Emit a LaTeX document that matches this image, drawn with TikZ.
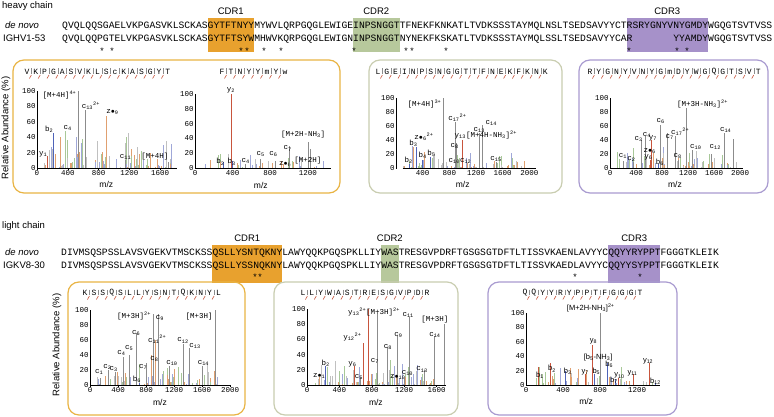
\documentclass[tikz,border=0pt]{standalone}
\usepackage{fontspec}
\setmainfont{Liberation Sans}
\setsansfont{Liberation Sans}
\setmonofont{Liberation Mono}
\definecolor{cdrO}{HTML}{E8A12E}
\definecolor{cdrG}{HTML}{B7C89C}
\definecolor{cdrP}{HTML}{A691C9}
\definecolor{frO}{HTML}{E9B444}
\definecolor{frG}{HTML}{C9CDB0}
\definecolor{frP}{HTML}{A99BD0}
\definecolor{cgr}{HTML}{A8C898}
\definecolor{cor}{HTML}{E0A070}
\definecolor{cbl}{HTML}{A0A8D8}
\definecolor{cgy}{HTML}{C0C0C0}
\definecolor{cred}{HTML}{C8553D}
\definecolor{cblue}{HTML}{4F63B8}
\definecolor{cgray}{HTML}{8C8C8C}
\tikzset{
 seqtxt/.style={font=\fontsize{9.7}{10}\ttfamily,inner sep=0,anchor=base west},
 lbl/.style={font=\fontsize{9.5}{10}\sffamily,inner sep=0},
 star/.style={font=\fontsize{9}{9}\ttfamily,inner sep=0},
 frame/.style={rounded corners=11pt,line width=1.2pt},
 tk/.style={font=\fontsize{7.5}{8}\ttfamily,inner sep=1pt},
 pkl/.style={font=\fontsize{7.5}{8}\ttfamily,inner sep=0.5pt},
 mz/.style={font=\fontsize{8.5}{9}\sffamily,inner sep=0},
 pep/.style={font=\fontsize{8}{8}\ttfamily,inner sep=0},
}
\newcommand\cw{5.82}
\newcommand\noisebars[3]{%
 \foreach \k in {1,...,#2}{%
  \pgfmathsetmacro\mm{100+rnd*(#1-100)}%
  \pgfmathsetmacro\ii{rnd*rnd*#3}%
  \pgfmathtruncatemacro\cc{mod(\k,4)}%
  \ifcase\cc \def\col{cgr}\or\def\col{cor}\or\def\col{cbl}\else\def\col{cgy}\fi
  \draw[\col,line width=0.45pt] (\mm,0) -- (\mm,\ii);}}
\newcommand\axes[3]{%
 \draw[line width=0.5pt] (#1,0) -- (#2,0);
 \draw[line width=0.5pt] (0,0) -- (0,100);
 \foreach \v in {0,20,...,100}{\draw (0,\v) -- ++(-2pt,0) node[tk,left]{\v};}
 \foreach \t in {#3}{\draw (\t,0) -- ++(0,-2pt) node[tk,below]{\t};}}
\newcommand\pk[3]{\draw[#3,line width=0.6pt] (#1,0) -- (#1,#2);}
\newcommand\pepseq[4]{%
 \foreach \l [count=\n from 0] in {#4}{%
  \node[pep] at ({#1+\n*#3},{-#2}) {\l};
  \ifnum\n>0
   \draw[cgray,line width=0.35pt] ({#1+(\n-0.5)*#3},{-#2+3.5}) -- ({#1+(\n-0.5)*#3},{-#2-2});
   \draw[cred,line width=0.6pt] ({#1+(\n-0.5)*#3},{-#2-3}) -- ({#1+(\n-0.5)*#3-2},{-#2-6.5});
  \fi}}
\begin{document}
\begin{tikzpicture}[x=1pt,y=1pt]
\useasboundingbox (0,0) rectangle (774,-417);
\fill[white] (0,0) rectangle (774,-417);
\pgfmathsetseed{7}
%================ HEAVY =================
\node[lbl,anchor=west] (hc) at (2,-6) {heavy chain};
\fill[cdrO] ({62+25*\cw},-18) rectangle ({62+33*\cw},-52);
\fill[cdrG] ({62+50*\cw},-18) rectangle ({62+58*\cw},-52);
\fill[cdrP] ({62+97*\cw},-18) rectangle ({62+111*\cw},-52);
\node[lbl] (h1) at ({62+29*\cw},-11) {CDR1};
\node[lbl] (h2) at ({62+54*\cw},-11) {CDR2};
\node[lbl] (h3) at ({62+104*\cw},-11) {CDR3};
\node[lbl,anchor=base west] (hdn) at (5,-29) {\textit{de novo}};
\node[lbl,anchor=base west] (hg) at (3,-42) {IGHV1-53};
\node[seqtxt] (hs1) at (62,-29) {QVQLQQSGAELVKPGASVKLSCKASGYTFTNYYMYWVLQRPGQGLEWIGEINPSNGGTTFNEKFKNKATLTVDKSSSTAYMQLNSLTSEDSAVYYCTRSRYGNYVNYGMDYWGQGTSVTVSS};
\node[seqtxt] (hs2) at (62,-42) {QVQLQQPGTELVKPGASVKLSCKASGYTFTSYWMHWVKQRPGQGLEWIGNINPSNGGTNYNEKFKSKATLTVDKSSSTAYMQLSSLTSEDSAVYYCAR};
\node[seqtxt] (hs3) at ({62+105*\cw},-42) {YYAMDYWGQGTSVTVSS};
\foreach \x in {102,112,241,247,264,281,354,406,412,446,629,677,687}
 \node[star] at (\x,-51) {*};
\draw[frO,frame] (13,-60) rectangle (340,-193);
\draw[frG,frame] (369,-60) rectangle (562,-193);
\draw[frP,frame] (579,-60) rectangle (768,-193);
\node[font=\fontsize{9.5}{10}\sffamily,rotate=90] (ra1) at (6,-128) {Relative Abundance (\%)};
\pepseq{27}{72}{8.8}{V,K,P,G,A,S,V,K,L,S,c,K,A,S,G,Y,T}
\pepseq{222}{72}{9}{F,T,N,Y,Y,m,Y,w}
\pepseq{378}{72}{8.8}{L,G,E,I,N,P,S,N,G,G,T,T,F,N,E,K,F,K,N,K}
\pepseq{590}{72}{8.85}{R,Y,G,N,Y,V,N,Y,G,m,D,Y,W,G,Q,G,T,S,V,T}
\begin{scope}[shift={(37,-168)},xscale=0.077,yscale=0.77]
 \noisebars{1750}{90}{55}
 \axes{0}{1820}{0,400,800,1200,1600}
 \pk{532}{100}{cgray}\node[pkl,anchor=south east] at (520,88) {[M+4H]\textsuperscript{4+}};
 \pk{623}{75}{cgray}\node[pkl,anchor=south] at (700,75) {c\textsubscript{13}\textsuperscript{2+}};
 \pk{896}{68}{cor}\node[pkl,anchor=south] at (980,68) {z$\bullet$\textsubscript{9}};
 \pk{208}{45}{cblue}\node[pkl,anchor=south] at (160,45) {b\textsubscript{2}};
 \pk{364}{48}{cgr}\node[pkl,anchor=south] at (400,48) {c\textsubscript{4}};
 \pk{130}{15}{cred}\node[pkl,anchor=south] at (80,13) {y\textsubscript{1}};
 \pk{1150}{10}{cgray}\node[pkl,anchor=south] at (1150,10) {c\textsubscript{11}};
 \pk{1700}{8}{cgray}\node[pkl,anchor=south] at (1530,10) {[M+4H]};
 \node[mz] at (900,-22) {m/z};
\end{scope}
\begin{scope}[shift={(195,-168)},xscale=0.094,yscale=0.74]
 \noisebars{1400}{40}{25}
 \axes{0}{1450}{0,400,800,1200}
 \pk{383}{100}{cred}\node[pkl,anchor=south] at (383,100) {y\textsubscript{2}};
 \pk{300}{8}{cblue}\node[pkl,anchor=south] at (270,3) {b\textsubscript{2}};
 \pk{400}{10}{cblue}\node[pkl,anchor=south] at (390,3) {b\textsubscript{3}};
 \pk{540}{5}{cgray}\node[pkl,anchor=south] at (540,5) {c\textsubscript{4}};
 \pk{700}{12}{cgray}\node[pkl,anchor=south] at (700,14) {c\textsubscript{5}};
 \pk{850}{10}{cgray}\node[pkl,anchor=south] at (835,14) {c\textsubscript{6}};
 \pk{940}{5}{cor}\node[pkl,anchor=south] at (960,1) {z$\bullet$\textsubscript{6}};
 \pk{1000}{30}{cgray}\node[pkl,anchor=south] at (985,22) {c\textsubscript{7}};
 \pk{1210}{35}{cgray}\node[pkl,anchor=south] at (1150,40) {[M+2H-NH\textsubscript{3}]};
 \pk{1225}{25}{cgray}\node[pkl,anchor=south] at (1200,5) {[M+2H]};
 \node[mz] at (700,-23) {m/z};
\end{scope}
\begin{scope}[shift={(396,-168)},xscale=0.0667,yscale=0.70]
 \noisebars{2000}{80}{35}
 \axes{100}{2100}{400,800,1200,1600,2000}
 \pk{705}{100}{cgray}\node[pkl,anchor=south east] at (690,85) {[M+4H]\textsuperscript{3+}};
 \pk{895}{65}{cgray}\node[pkl,anchor=south] at (920,65) {c\textsubscript{17}\textsuperscript{2+}};
 \pk{1300}{62}{cgray}\node[pkl,anchor=south] at (1430,60) {c\textsubscript{14}};
 \pk{1250}{50}{cgray}\node[pkl,anchor=south] at (1250,50) {c\textsubscript{13}};
 \pk{1000}{40}{cred}\node[pkl,anchor=south west] at (870,40) {y\textsubscript{13}[M+4H-NH\textsubscript{3}]\textsuperscript{2+}};
 \pk{900}{35}{cgray}\node[pkl,anchor=south] at (880,27) {c\textsubscript{8}};
 \pk{300}{30}{cblue}\node[pkl,anchor=south] at (260,30) {b\textsubscript{3}};
 \node[pkl,anchor=south] at (420,38) {z$\bullet$\textsubscript{6}\textsuperscript{2+}};
 \pk{400}{12}{cblue}\node[pkl,anchor=south] at (400,12) {b\textsubscript{4}};
 \pk{520}{15}{cblue}\node[pkl,anchor=south] at (530,15) {b\textsubscript{5}};
 \pk{200}{5}{cblue}\node[pkl,anchor=south] at (190,5) {b\textsubscript{2}};
 \node[pkl,anchor=south] at (960,5) {c\textsubscript{10}c\textsubscript{12}};
 \pk{1500}{8}{cgray}\node[pkl,anchor=south] at (1500,8) {c\textsubscript{15}};
 \node[mz] at (1000,-24) {m/z};
\end{scope}
\begin{scope}[shift={(610,-168)},xscale=0.065,yscale=0.70]
 \noisebars{1950}{70}{35}
 \axes{0}{2050}{0,400,800,1200,1600,2000}
 \pk{1180}{85}{cgray}\node[pkl,anchor=south west] at (1020,85) {[M+3H-NH\textsubscript{3}]\textsuperscript{2+}};
 \pk{780}{62}{cgray}\node[pkl,anchor=south] at (780,62) {c\textsubscript{6}};
 \pk{880}{50}{cgray}\node[pkl,anchor=south] at (920,40) {c\textsubscript{7}};
 \pk{1000}{45}{cgray}\node[pkl,anchor=south] at (1080,45) {c\textsubscript{17}\textsuperscript{2+}};
 \pk{1760}{50}{cgray}\node[pkl,anchor=south] at (1780,50) {c\textsubscript{14}};
 \pk{1900}{42}{cgray}
 \pk{480}{40}{cgray}\node[pkl,anchor=south] at (440,37) {c\textsubscript{3}};
 \pk{540}{45}{cgray}\node[pkl,anchor=south] at (570,43) {c\textsubscript{4}};
 \pk{640}{40}{cred}\node[pkl,anchor=south] at (660,37) {y\textsubscript{7}};
 \pk{660}{22}{cor}\node[pkl,anchor=south] at (610,20) {z$\bullet$\textsubscript{6}};
 \pk{620}{12}{cred}\node[pkl,anchor=south] at (590,10) {y\textsubscript{6}};
 \pk{750}{5}{cblue}\node[pkl,anchor=south] at (770,2) {b\textsubscript{6}};
 \pk{200}{10}{cgray}\node[pkl,anchor=south] at (200,12) {c\textsubscript{1}};
 \pk{360}{8}{cgray}\node[pkl,anchor=south] at (330,8) {c\textsubscript{2}};
 \pk{1050}{12}{cgray}\node[pkl,anchor=south] at (1040,12) {c\textsubscript{8}};
 \pk{1260}{25}{cgray}\node[pkl,anchor=south] at (1320,25) {c\textsubscript{10}};
 \pk{1560}{20}{cgray}\node[pkl,anchor=south] at (1620,25) {c\textsubscript{12}};
 \node[mz] at (1000,-24) {m/z};
\end{scope}
%================ LIGHT =================
\node[lbl,anchor=west] (lc) at (2,-226) {light chain};
\fill[cdrO] ({61+26*\cw},-245) rectangle ({61+38*\cw},-283);
\fill[cdrG] ({61+55*\cw},-245) rectangle ({61+58*\cw},-283);
\fill[cdrP] ({61+94*\cw},-245) rectangle ({61+103*\cw},-283);
\node[lbl] (l1) at ({61+32*\cw},-238) {CDR1};
\node[lbl] (l2) at ({61+56.5*\cw},-238) {CDR2};
\node[lbl] (l3) at ({61+98.5*\cw},-238) {CDR3};
\node[lbl,anchor=base west] (ldn) at (5,-255) {\textit{de novo}};
\node[lbl,anchor=base west] (lg) at (3,-268) {IGKV8-30};
\node[seqtxt] (ls1) at (61,-255) {DIVMSQSPSSLAVSVGEKVTMSCKSSQSLLYSNTQKNYLAWYQQKPGQSPKLLIYWASTRESGVPDRFTGSGSGTDFTLTISSVKAENLAVYYCQQYYRYPPTFGGGTKLEIK};
\node[seqtxt] (ls2) at (61,-268) {DIVMSQSPSSLAVSVGEKVTMSCKSSQSLLYSSNQKNYLAWYQQKPGQSPKLLIYWASTRESGVPDRFTGSGSGTDFTLTISSVKAEDLAVYYCQQYYSYPPTFGGGTKLEIK};
\foreach \x in {255,260,575,640}
 \node[star] at (\x,-277) {*};
\draw[frO,frame] (68,-282) rectangle (245,-415);
\draw[frG,frame] (274,-282) rectangle (458,-415);
\draw[frP,frame] (488,-282) rectangle (677,-415);
\node[font=\fontsize{9.5}{10}\sffamily,rotate=90] (ra2) at (57,-345) {Relative Abundance (\%)};
\pepseq{85}{293}{8.9}{K,S,S,Q,S,L,L,Y,S,N,T,Q,K,N,Y,L}
\pepseq{303}{293}{8.86}{L,L,Y,W,A,S,T,R,E,S,G,V,P,D,R}
\pepseq{525}{293}{8.85}{Q,Q,Y,Y,R,Y,P,P,T,F,G,G,G,T}
\begin{scope}[shift={(90,-385)},xscale=0.07,yscale=0.75]
 \noisebars{1900}{70}{40}
 \axes{0}{2000}{0,400,800,1200,1600,2000}
 \pk{900}{95}{cgray}\node[pkl,anchor=south east] at (880,85) {[M+3H]\textsuperscript{2+}};
 \pk{980}{95}{cgray}\node[pkl,anchor=south] at (1000,85) {c\textsubscript{9}};
 \pk{1790}{100}{cgray}\node[pkl,anchor=south] at (1560,85) {[M+3H]};
 \pk{660}{70}{cgray}\node[pkl,anchor=south] at (660,65) {c\textsubscript{6}};
 \pk{560}{40}{cgray}\node[pkl,anchor=south] at (560,45) {c\textsubscript{5}};
 \pk{480}{38}{cgray}\node[pkl,anchor=south] at (450,38) {c\textsubscript{4}};
 \pk{260}{20}{cgray}\node[pkl,anchor=south] at (250,20) {c\textsubscript{2}};
 \pk{360}{18}{cgray}\node[pkl,anchor=south] at (340,17) {c\textsubscript{3}};
 \pk{150}{10}{cgray}\node[pkl,anchor=south] at (130,13) {c\textsubscript{1}};
 \pk{930}{60}{cor}\node[pkl,anchor=south] at (960,55) {c\textsubscript{11}\textsuperscript{2+}};
 \pk{1330}{55}{cgray}\node[pkl,anchor=south] at (1330,55) {c\textsubscript{12}};
 \pk{1420}{50}{cgray}\node[pkl,anchor=south] at (1500,48) {c\textsubscript{13}};
 \pk{800}{30}{cgray}\node[pkl,anchor=south] at (760,20) {c\textsubscript{7}};
 \pk{880}{40}{cor}\node[pkl,anchor=south] at (920,30) {c\textsubscript{8}};
 \pk{1130}{25}{cgray}\node[pkl,anchor=south] at (1170,25) {c\textsubscript{10}};
 \pk{1600}{25}{cgray}\node[pkl,anchor=south] at (1620,25) {c\textsubscript{14}};
 \pk{700}{3}{cblue}\node[pkl,anchor=south] at (670,2) {b\textsubscript{6}};
 \node[mz] at (1000,-23) {m/z};
\end{scope}
\begin{scope}[shift={(307,-385)},xscale=0.081,yscale=0.76]
 \noisebars{1650}{80}{35}
 \axes{0}{1720}{0,400,800,1200,1600}
 \pk{760}{100}{cred}\node[pkl,anchor=south] at (620,90) {y\textsubscript{13}\textsuperscript{2+}};
 \pk{870}{95}{cgray}\node[pkl,anchor=south] at (940,90) {[M+3H]\textsuperscript{2+}};
 \pk{1260}{90}{cgray}\node[pkl,anchor=south] at (1250,88) {c\textsubscript{11}};
 \pk{1690}{80}{cgray}\node[pkl,anchor=south] at (1580,80) {[M+3H]};
 \pk{1570}{65}{cgray}\node[pkl,anchor=south] at (1580,62) {c\textsubscript{14}};
 \pk{1120}{65}{cgray}\node[pkl,anchor=south] at (1130,62) {c\textsubscript{9}};
 \pk{990}{50}{cgray}\node[pkl,anchor=south] at (1000,46) {c\textsubscript{8}};
 \pk{690}{55}{cred}\node[pkl,anchor=south] at (560,57) {y\textsubscript{12}\textsuperscript{2+}};
 \pk{870}{30}{cgray}\node[pkl,anchor=south] at (840,27) {c\textsubscript{7}};
 \pk{590}{25}{cred}\node[pkl,anchor=south] at (560,23) {y\textsubscript{6}};
 \pk{660}{10}{cgray}\node[pkl,anchor=south] at (640,6) {c\textsubscript{5}};
 \pk{230}{25}{cblue}\node[pkl,anchor=south] at (230,23) {b\textsubscript{2}};
 \pk{150}{10}{cor}\node[pkl,anchor=south] at (150,8) {z$\bullet$\textsubscript{1}};
 \node[pkl,anchor=south] at (1120,6) {z$\bullet$\textsubscript{10}};
 \pk{1200}{10}{cgray}\node[pkl,anchor=south] at (1240,12) {c\textsubscript{10}};
 \pk{1450}{20}{cgray}\node[pkl,anchor=south] at (1420,16) {c\textsubscript{13}};
 \node[mz] at (850,-23) {m/z};
\end{scope}
\begin{scope}[shift={(526,-385)},xscale=0.0925,yscale=0.72]
 \noisebars{1380}{50}{30}
 \axes{0}{1450}{0,400,800,1200}
 \pk{800}{100}{cgray}\node[pkl,anchor=south,font=\fontsize{7.5}{8}\sffamily] at (700,100) {[M+2H-NH\textsubscript{3}]\textsuperscript{2+}};
 \pk{720}{55}{cred}\node[pkl,anchor=south,font=\fontsize{7.5}{8}\sffamily] at (730,56) {y\textsubscript{8}};
 \node[pkl,anchor=south,font=\fontsize{7.5}{8}\sffamily] at (780,32) {[b\textsubscript{5}-NH\textsubscript{3}]};
 \pk{880}{30}{cblue}\node[pkl,anchor=south,font=\fontsize{7.5}{8}\sffamily] at (900,23) {b\textsubscript{6}};
 \pk{740}{15}{cblue}\node[pkl,anchor=south,font=\fontsize{7.5}{8}\sffamily] at (760,13) {b\textsubscript{5}};
 \pk{640}{15}{cred}\node[pkl,anchor=south,font=\fontsize{7.5}{8}\sffamily] at (640,13) {y\textsubscript{7}};
 \pk{430}{20}{cblue}\node[pkl,anchor=south,font=\fontsize{7.5}{8}\sffamily] at (450,13) {b\textsubscript{3}};
 \pk{260}{30}{cred}\node[pkl,anchor=south,font=\fontsize{7.5}{8}\sffamily] at (280,17) {b\textsubscript{2}};
 \pk{130}{25}{cred}\node[pkl,anchor=south,font=\fontsize{7.5}{8}\sffamily] at (150,8) {b\textsubscript{1}};
 \pk{1000}{10}{cred}\node[pkl,anchor=south,font=\fontsize{7.5}{8}\sffamily] at (1010,8) {y\textsubscript{10}};
 \pk{960}{8}{cblue}\node[pkl,anchor=south,font=\fontsize{7.5}{8}\sffamily] at (950,1) {b\textsubscript{7}};
 \pk{1160}{15}{cred}\node[pkl,anchor=south,font=\fontsize{7.5}{8}\sffamily] at (1150,12) {y\textsubscript{11}};
 \pk{1330}{30}{cred}\node[pkl,anchor=south,font=\fontsize{7.5}{8}\sffamily] at (1320,28) {y\textsubscript{12}};
 \pk{1400}{3}{cblue}\node[pkl,anchor=south,font=\fontsize{7.5}{8}\sffamily] at (1400,0) {b\textsubscript{12}};
 \node[mz] at (650,-23) {m/z};
\end{scope}
\end{tikzpicture}
\end{document}
